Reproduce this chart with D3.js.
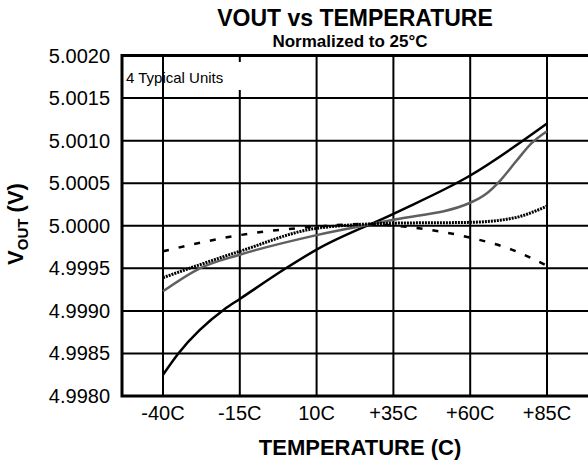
<!DOCTYPE html>
<html>
<head>
<meta charset="utf-8">
<script src="https://cdn.jsdelivr.net/npm/d3@7"></script>
<style>
  body { margin: 0; background: #fff; }
  svg { display: block; font-family: "Liberation Sans", Arial, sans-serif; }
</style>
</head>
<body>
<svg id="chart" width="588" height="466"></svg>
<script>
const xTicks = [-40, -15, 10, 35, 60, 85];
const xTickLabels = ["-40C", "-15C", "10C", "+35C", "+60C", "+85C"];
const yTicks = [4.998, 4.9985, 4.999, 4.9995, 5.0, 5.0005, 5.001, 5.0015, 5.002];

// unit 1 - solid black
const temps1 = [-40, -35, -20, -15, 0, 10, 35, 60, 85];
const vals1 = [4.99825, 4.99850, 4.99902, 4.99914, 4.99950, 4.99972, 5.00014, 5.00059, 5.00120];
// unit 2 - solid grey
const temps2 = [-40, -28, -15, 10, 35, 60, 65, 70, 75, 80, 85];
const vals2 = [4.99923, 4.99950, 4.99966, 4.99989, 5.00007, 5.00027, 5.00037, 5.00054, 5.00076, 5.00097, 5.00111];
// unit 3 - dotted
const temps3 = [-40, -15, 10, 35, 60, 74, 85];
const vals3 = [4.99939, 4.99970, 4.99997, 5.00003, 5.00004, 5.00009, 5.00023];
// unit 4 - dashed
const temps4 = [-40, -15, 10, 25, 41, 60, 73.5, 85];
const vals4 = [4.99970, 4.99989, 4.99999, 5.00002, 4.99998, 4.99986, 4.99972, 4.99953];

const svg = d3.select("#chart");
const plotLeft = 122, plotTop = 55.5, plotBottom = 396, plotRight = 600;

const x = d3.scaleLinear().domain([-40, 85]).range([163, 547]);
const y = d3.scaleLinear().domain([4.998, 5.002]).range([plotBottom, plotTop]);

// grid
svg.append("g").selectAll("line").data(yTicks).join("line")
    .attr("x1", plotLeft).attr("x2", plotRight)
    .attr("y1", d => y(d)).attr("y2", d => y(d))
    .attr("stroke", "#000").attr("stroke-width", 2);
svg.append("g").selectAll("line").data(xTicks).join("line")
    .attr("x1", d => x(d)).attr("x2", d => x(d))
    .attr("y1", plotTop).attr("y2", plotBottom)
    .attr("stroke", "#000").attr("stroke-width", 2);

// frame
svg.append("path")
    .attr("d", `M${plotRight},${plotTop}H${plotLeft}V${plotBottom}H${plotRight}`)
    .attr("fill", "none").attr("stroke", "#000").attr("stroke-width", 3);

// legend note
svg.append("rect").attr("x", 166).attr("y", 62).attr("width", 80).attr("height", 28).attr("fill", "#fff");
svg.append("text").attr("x", 126).attr("y", 83).attr("font-size", 15).text("4 Typical Units");

// tick labels
svg.append("g").selectAll("text").data(yTicks).join("text")
    .attr("x", 110).attr("y", d => y(d)).attr("dy", "0.35em")
    .attr("text-anchor", "end").attr("font-size", 20)
    .text(d => d3.format(".4f")(d));
svg.append("g").selectAll("text").data(xTicks).join("text")
    .attr("x", d => x(d)).attr("y", 420)
    .attr("text-anchor", "middle").attr("font-size", 20)
    .text((d, i) => xTickLabels[i]);

// series
const line = d3.line().x(d => x(d[0])).y(d => y(d[1])).curve(d3.curveMonotoneX);
const series = [
    { t: temps1, v: vals1, color: "#000", width: 2.5, dash: null },
    { t: temps2, v: vals2, color: "#5f5f5f", width: 2.5, dash: null },
    { t: temps3, v: vals3, color: "#000", width: 3, dash: "2,1" },
    { t: temps4, v: vals4, color: "#000", width: 2.5, dash: "6,10" }
];
series.forEach(s => {
    svg.append("path")
        .datum(d3.zip(s.t, s.v))
        .attr("d", line)
        .attr("fill", "none")
        .attr("stroke", s.color)
        .attr("stroke-width", s.width)
        .attr("stroke-dasharray", s.dash);
});

// titles
svg.append("text").attr("x", 355).attr("y", 26).attr("text-anchor", "middle")
    .attr("font-size", 23).attr("font-weight", "bold").text("VOUT vs TEMPERATURE");
svg.append("text").attr("x", 350).attr("y", 47).attr("text-anchor", "middle")
    .attr("font-size", 17).attr("font-weight", "bold").text("Normalized to 25°C");
svg.append("text").attr("x", 360).attr("y", 455).attr("text-anchor", "middle")
    .attr("font-size", 22).attr("font-weight", "bold").text("TEMPERATURE (C)");

const yTitle = svg.append("text")
    .attr("transform", "translate(23,224) rotate(-90)")
    .attr("text-anchor", "middle")
    .attr("font-size", 22).attr("font-weight", "bold");
yTitle.append("tspan").text("V");
yTitle.append("tspan").attr("font-size", 15).attr("dy", 5).text("OUT");
yTitle.append("tspan").attr("dy", -5).text(" (V)");
</script>
</body>
</html>
